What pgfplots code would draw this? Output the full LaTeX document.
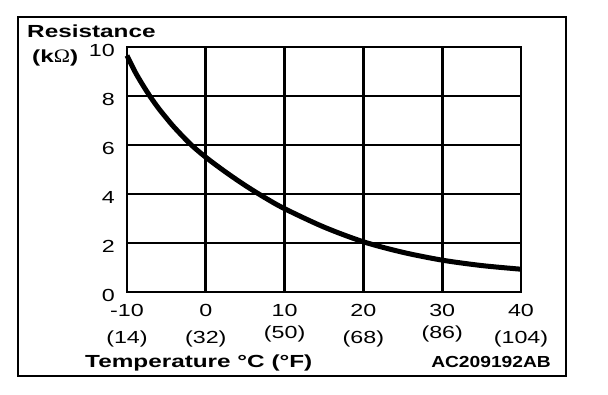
\documentclass[border=0pt]{standalone}
\usepackage{fontspec}
\setmainfont{Liberation Sans}[FakeStretch=1.33]
\newfontfamily\boldfont{Liberation Sans Bold}[FakeStretch=1.39]
\newfontfamily\codefont{Liberation Sans Bold}[FakeStretch=1.2]
\newfontfamily\omegafont{Liberation Serif}[FakeStretch=1.15]
\usepackage{pgfplots}
\pgfplotsset{compat=1.18}
\begin{document}
\begin{tikzpicture}
\fontsize{17.5}{27}\selectfont
\begin{axis}[
  at={(0pt,0pt)}, anchor=south west,
  width=394pt, height=245pt, scale only axis,
  xmin=-10, xmax=40, ymin=0, ymax=10,
  xtick={-10,0,10,20,30,40},
  ytick={0,2,4,6,8,10},
  xticklabels={{-10\\(14)},{0\\(32)},{10\\\raisebox{5pt}{(50)}},{20\\(68)},{30\\\raisebox{5pt}{(86)}},{40\\(104)}},
  yticklabels={0,2,4,6,8,10},
  major tick length=0pt,
  grid=major,
  grid style={black, line width=2.6pt},
  axis line style={black, line width=2.7pt},
  xticklabel style={align=center, inner sep=0pt, anchor=north, yshift=-12pt, font=\fontsize{17.5}{27}\selectfont},
  yticklabel style={inner sep=0pt, anchor=east, xshift=-12pt, yshift=-3pt, font=\fontsize{17.5}{20}\selectfont},
  clip=false,
]
\addplot[black, line width=5pt, smooth] coordinates {
  (-10,9.65) (-9,9.0) (-8,8.45) (-7,7.95) (-6,7.5) (-5,7.1) (-4,6.72)
  (-2,6.05) (0,5.5) (2.5,4.9) (5,4.35) (7.5,3.85) (10,3.4) (15,2.65)
  (20,2.05) (25,1.62) (30,1.3) (35,1.08) (40,0.93)
};
\end{axis}
\path[use as bounding box] (-127pt,292pt) rectangle (481pt,-102pt);
\draw[line width=2.8pt] (-109pt,275pt) rectangle (439pt,-84pt);
\node[anchor=base west, inner sep=0pt, font=\fontsize{17.5}{20}\selectfont\boldfont] at (-100pt,254pt) {Resistance};
\node[anchor=base west, inner sep=0pt, font=\fontsize{17.5}{20}\selectfont\boldfont] at (-95pt,229pt) {(k{\fontsize{19}{20}\selectfont\omegafont Ω})};
\node[anchor=base west, inner sep=0pt, font=\fontsize{17.5}{20}\selectfont\boldfont] at (-42pt,-75pt) {Temperature °C (°F)};
\node[anchor=base east, inner sep=0pt, font=\fontsize{16}{20}\selectfont\codefont] at (424pt,-75pt) {AC209192AB};
\end{tikzpicture}
\end{document}
